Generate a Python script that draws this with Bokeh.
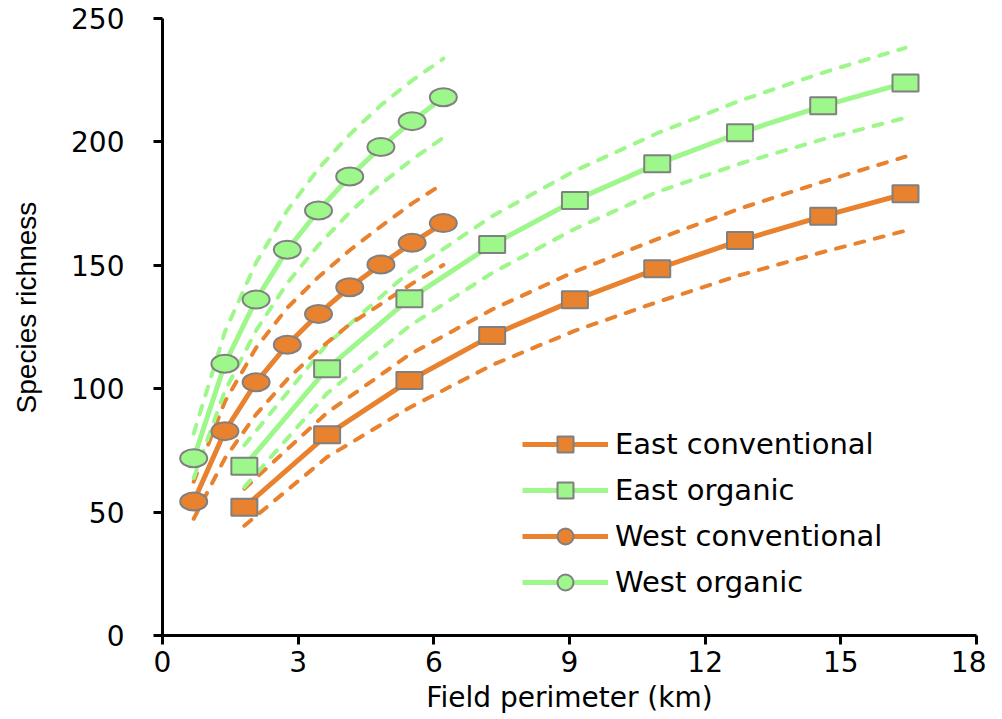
from bokeh.plotting import figure
from bokeh.models import Range1d, Legend, LegendItem, FixedTicker
from bokeh.embed import file_html
from bokeh.resources import INLINE

# ---- data ----
x_west = [0.69, 1.38, 2.07, 2.76, 3.45, 4.14, 4.83, 5.52, 6.21]
x_east = [1.81, 3.64, 5.46, 7.29, 9.12, 10.94, 12.77, 14.61, 16.43]

east_conv = [52.0, 81.3, 103.3, 121.6, 136.0, 148.6, 160.0, 169.9, 179.0]
east_conv_hi = [59.5, 90.3, 113.8, 132.1, 147.5, 160.6, 173.0, 183.9, 194.0]
east_conv_lo = [44.5, 72.3, 92.3, 109.6, 123.5, 135.1, 146.0, 155.4, 164.0]

east_org = [68.6, 108.1, 136.4, 158.4, 176.3, 191.1, 203.7, 214.6, 223.9]
east_org_hi = [77.1, 118.1, 147.4, 169.9, 188.3, 203.5, 216.7, 228.1, 238.1]
east_org_lo = [60.1, 98.1, 125.4, 146.9, 164.8, 179.7, 191.2, 201.1, 209.8]

west_conv = [54.3, 82.8, 102.6, 117.8, 130.3, 141.1, 150.3, 159.1, 167.1]
west_conv_hi = [62.3, 94.8, 116.6, 132.8, 145.3, 156.1, 165.8, 175.1, 183.1]
west_conv_lo = [47.3, 71.8, 89.6, 103.8, 115.8, 126.1, 134.3, 142.6, 150.1]

west_org = [71.8, 110.1, 136.1, 156.3, 172.2, 186.0, 197.9, 208.4, 218.1]
west_org_hi = [81.8, 123.1, 151.1, 172.3, 189.2, 203.0, 214.9, 224.9, 233.7]
west_org_lo = [63.8, 99.1, 123.6, 142.8, 158.2, 171.5, 182.9, 192.9, 201.7]

x_ticks = [0, 3, 6, 9, 12, 15, 18]
y_ticks = [0, 50, 100, 150, 200, 250]

x_title = "Field perimeter (km)"
y_title = "Species richness"

ORANGE = "#E8822E"
GREEN = "#9DF78A"
EDGE = "#808080"
FONT = "DejaVu Sans"

p = figure(width=986, height=716, output_backend="svg", toolbar_location=None,
           x_range=Range1d(0, 18), y_range=Range1d(0, 250),
           min_border_left=162, min_border_right=10, min_border_top=18, min_border_bottom=81)
p.outline_line_color = None
p.xgrid.visible = False
p.ygrid.visible = False
p.background_fill_color = "white"
p.border_fill_color = "white"

series = [
    ("East conventional", x_east, east_conv, east_conv_hi, east_conv_lo, ORANGE, "square"),
    ("East organic", x_east, east_org, east_org_hi, east_org_lo, GREEN, "square"),
    ("West conventional", x_west, west_conv, west_conv_hi, west_conv_lo, ORANGE, "circle"),
    ("West organic", x_west, west_org, west_org_hi, west_org_lo, GREEN, "circle"),
]

# dashed confidence curves
for name, xs, m, hi, lo, col, mk in series:
    p.line(xs, hi, line_color=col, line_width=4, line_dash="9 11", line_cap="round")
    p.line(xs, lo, line_color=col, line_width=4, line_dash="9 11", line_cap="round")

items = []
for name, xs, m, hi, lo, col, mk in series:
    lr = p.line(xs, m, line_color=col, line_width=5)
    # marker used for the legend symbol (hidden under the stretched marker below)
    sr = p.scatter(xs, m, marker=mk, size=15,
                   fill_color=col, line_color=EDGE, line_width=2)
    if mk == "square":
        p.rect(xs, m, width=26, height=17, width_units="screen", height_units="screen",
               fill_color=col, line_color=EDGE, line_width=2)
    else:
        p.ellipse(xs, m, width=27, height=18, width_units="screen", height_units="screen",
                  fill_color=col, line_color=EDGE, line_width=2)
    items.append(LegendItem(label=name, renderers=[lr, sr]))

legend = Legend(items=items, location=(360, 33), glyph_width=86, glyph_height=40,
                label_height=40, spacing=6, padding=0, margin=0, label_standoff=7,
                label_text_font=FONT, label_text_font_size="29px", label_text_color="black",
                border_line_alpha=0, background_fill_alpha=0)
p.add_layout(legend)

for ax in (p.xaxis[0], p.yaxis[0]):
    ax.axis_line_width = 3
    ax.axis_line_color = "black"
    ax.major_tick_line_width = 3
    ax.major_tick_line_color = "black"
    ax.major_tick_out = 9
    ax.major_tick_in = 0
    ax.minor_tick_out = 0
    ax.minor_tick_in = 0
    ax.major_label_text_font = FONT
    ax.major_label_text_font_size = "28px"
    ax.major_label_text_color = "black"
    ax.axis_label_text_font_style = "normal"
    ax.axis_label_text_color = "black"

p.xaxis[0].ticker = FixedTicker(ticks=x_ticks)
p.yaxis[0].ticker = FixedTicker(ticks=y_ticks)
p.xaxis[0].axis_label = x_title
p.xaxis[0].axis_label_text_font = FONT
p.xaxis[0].axis_label_text_font_size = "28px"
p.xaxis[0].major_label_standoff = 6
p.xaxis[0].axis_label_standoff = 6

# y title: a few non-breaking spaces in front lift it slightly above the axis middle,
# as in the reference
p.yaxis[0].axis_label = "\u00a0" * 5 + y_title
p.yaxis[0].axis_label_text_font = "Liberation Sans"
p.yaxis[0].axis_label_text_font_size = "28px"
p.yaxis[0].major_label_standoff = 29
p.yaxis[0].axis_label_standoff = 26

open("out.html", "w").write(file_html(p, INLINE))
